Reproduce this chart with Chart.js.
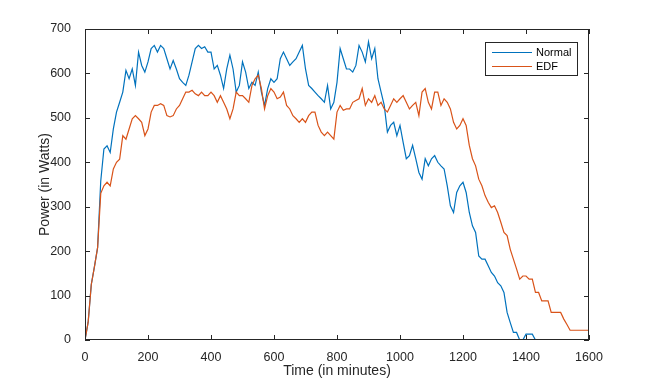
<!DOCTYPE html>
<html>
<head>
<meta charset="utf-8">
<script src="https://cdn.jsdelivr.net/npm/chart.js@4.4.0/dist/chart.umd.min.js"></script>
<style>
  body { margin: 0; background: #fff; }
  canvas { display: block; }
</style>
</head>
<body>
<canvas id="myChart" width="651" height="382"></canvas>
<script>
// time in minutes, one sample every 10 minutes
const minutes = [
  0, 10, 20, 30, 40, 50, 60, 70, 80, 90,
  100, 110, 120, 130, 140, 150, 160, 170, 180, 190,
  200, 210, 220, 230, 240, 250, 260, 270, 280, 290,
  300, 310, 320, 330, 340, 350, 360, 370, 380, 390,
  400, 410, 420, 430, 440, 450, 460, 470, 480, 490,
  500, 510, 520, 530, 540, 550, 560, 570, 580, 590,
  600, 610, 620, 630, 640, 650, 660, 670, 680, 690,
  700, 710, 720, 730, 740, 750, 760, 770, 780, 790,
  800, 810, 820, 830, 840, 850, 860, 870, 880, 890,
  900, 910, 920, 930, 940, 950, 960, 970, 980, 990,
  1000, 1010, 1020, 1030, 1040, 1050, 1060, 1070, 1080, 1090,
  1100, 1110, 1120, 1130, 1140, 1150, 1160, 1170, 1180, 1190,
  1200, 1210, 1220, 1230, 1240, 1250, 1260, 1270, 1280, 1290,
  1300, 1310, 1320, 1330, 1340, 1350, 1360, 1370, 1380, 1390,
  1400, 1410, 1420, 1430, 1440, 1450, 1460, 1470, 1480, 1490,
  1500, 1510, 1520, 1530, 1540, 1550, 1560, 1570, 1580, 1590,
  1600
];

// power in watts
const normal = [
  0, 40, 125, 165, 208, 358, 430, 437, 422, 475,
  513, 535, 558, 607, 588, 610, 573, 648, 618, 603,
  626, 656, 663, 648, 663, 656, 633, 610, 629, 610,
  588, 580, 573, 596, 626, 656, 663, 656, 660, 648,
  648, 610, 618, 596, 566, 610, 641, 610, 558, 573,
  626, 603, 566, 580, 573, 603, 558, 528, 566, 588,
  580, 588, 633, 648, 633, 618, 626, 633, 648, 663,
  610, 573, 566, 558, 550, 543, 535, 573, 520, 535,
  580, 656, 633, 610, 610, 603, 618, 663, 648, 626,
  671, 633, 656, 588, 558, 528, 468, 483, 490, 460,
  483, 445, 408, 415, 438, 408, 377, 362, 408, 392,
  408, 415, 400, 392, 385, 347, 302, 287, 332, 347,
  355, 332, 287, 257, 242, 189, 182, 182, 167, 152,
  144, 129, 122, 107, 62, 39, 17, 17, 0, 0,
  13, 13, 13, 0, 0, 0, 0, 0, 0, 0,
  0, 0, 0, 0, 0, 0, 0, 0, 0, 0,
  0
];

const edf = [
  0, 40, 125, 165, 208, 330, 347, 355, 347, 385,
  400, 407, 460, 452, 475, 498, 505, 498, 490, 460,
  475, 513, 528, 528, 532, 528, 505, 502, 505, 520,
  528, 543, 558, 558, 562, 554, 550, 558, 550, 550,
  558, 550, 535, 550, 535, 520, 498, 520, 558, 550,
  550, 543, 535, 573, 588, 596, 566, 520, 550, 566,
  558, 543, 547, 558, 528, 520, 505, 498, 490, 498,
  490, 505, 513, 513, 483, 468, 460, 468, 460, 452,
  513, 528, 517, 520, 520, 535, 539, 543, 566, 528,
  543, 535, 550, 528, 535, 520, 513, 528, 543, 535,
  543, 550, 535, 520, 528, 535, 505, 558, 566, 535,
  520, 558, 558, 528, 543, 535, 520, 490, 475, 483,
  498, 483, 438, 408, 392, 362, 347, 325, 310, 298,
  302, 287, 265, 242, 235, 204, 182, 160, 137, 144,
  144, 137, 137, 107, 107, 88, 88, 88, 62, 62,
  62, 62, 47, 35, 22, 22, 22, 22, 22, 22,
  22
];

const seriesNames = ["Normal", "EDF"];
const xTicks = [0, 200, 400, 600, 800, 1000, 1200, 1400, 1600];
const yTicks = [0, 100, 200, 300, 400, 500, 600, 700];

const axisColor = "#262626";
const fontFamily = "'Liberation Sans', Arial, Helvetica, sans-serif";

function toPoints(values) {
  const pts = [];
  for (let i = 0; i < values.length; i++) {
    pts.push({ x: minutes[i], y: values[i] });
  }
  return pts;
}

// box, inward ticks and boxed legend like the original figure
const matlabAxes = {
  id: "matlabAxes",
  afterDraw(chart) {
    const ctx = chart.ctx;
    const { left, right, top, bottom } = chart.chartArea;
    const tick = 5;
    ctx.save();
    ctx.strokeStyle = axisColor;
    ctx.lineWidth = 1;

    ctx.beginPath();
    chart.scales.x.ticks.forEach((t) => {
      const px = Math.round(chart.scales.x.getPixelForValue(t.value)) + 0.5;
      ctx.moveTo(px, bottom);
      ctx.lineTo(px, bottom - tick);
      ctx.moveTo(px, top);
      ctx.lineTo(px, top + tick);
    });
    chart.scales.y.ticks.forEach((t) => {
      const py = Math.round(chart.scales.y.getPixelForValue(t.value)) + 0.5;
      ctx.moveTo(left, py);
      ctx.lineTo(left + tick, py);
      ctx.moveTo(right, py);
      ctx.lineTo(right - tick, py);
    });
    ctx.stroke();

    ctx.strokeRect(Math.round(left) + 0.5, Math.round(top) + 0.5,
      Math.round(right - left) - 1, Math.round(bottom - top) - 1);

    // legend
    const bx = right - 104, by = top + 13, bw = 92, bh = 33;
    ctx.fillStyle = "#fff";
    ctx.fillRect(bx, by, bw, bh);
    ctx.strokeRect(bx + 0.5, by + 0.5, bw, bh);
    ctx.font = "11px " + fontFamily;
    ctx.textBaseline = "middle";
    chart.data.datasets.forEach((ds, i) => {
      const ly = by + 10.5 + i * 14;
      ctx.strokeStyle = ds.borderColor;
      ctx.beginPath();
      ctx.moveTo(bx + 7, ly);
      ctx.lineTo(bx + 47, ly);
      ctx.stroke();
      ctx.fillStyle = "#000";
      ctx.fillText(ds.label, bx + 51, ly);
    });
    ctx.restore();
  }
};

new Chart(document.getElementById("myChart"), {
  type: "line",
  data: {
    datasets: [
      {
        label: seriesNames[0],
        data: toPoints(normal),
        borderColor: "#0072BD",
        borderWidth: 1.2,
        pointRadius: 0,
        order: 1
      },
      {
        label: seriesNames[1],
        data: toPoints(edf),
        borderColor: "#D95319",
        borderWidth: 1.2,
        pointRadius: 0,
        order: 0
      }
    ]
  },
  options: {
    responsive: false,
    animation: false,
    devicePixelRatio: 1,
    layout: { padding: { top: 29, right: 62, left: 0, bottom: 0 } },
    plugins: {
      legend: { display: false },
      tooltip: { enabled: false }
    },
    scales: {
      x: {
        type: "linear",
        min: 0,
        max: 1600,
        afterBuildTicks(scale) {
          scale.ticks = xTicks.map((v) => ({ value: v }));
        },
        afterFit(scale) {
          scale.height = 42;
        },
        grid: { display: false },
        border: { display: false },
        ticks: {
          color: axisColor,
          padding: 2,
          maxRotation: 0,
          font: { family: fontFamily, size: 12.5 },
          callback: (v) => String(v)
        },
        title: {
          display: true,
          text: "Time (in minutes)",
          color: axisColor,
          font: { family: fontFamily, size: 14 },
          padding: { top: 0, bottom: 2 }
        }
      },
      y: {
        min: 0,
        max: 700,
        afterBuildTicks(scale) {
          scale.ticks = yTicks.map((v) => ({ value: v }));
        },
        afterFit(scale) {
          scale.width = 85;
        },
        grid: { display: false },
        border: { display: false },
        ticks: {
          color: axisColor,
          padding: 6,
          font: { family: fontFamily, size: 12.5 },
          callback: (v) => String(v)
        },
        title: {
          display: true,
          text: "Power (in Watts)",
          color: axisColor,
          font: { family: fontFamily, size: 14 },
          padding: { top: 37, bottom: 0 }
        }
      }
    }
  },
  plugins: [matlabAxes]
});
</script>
</body>
</html>
